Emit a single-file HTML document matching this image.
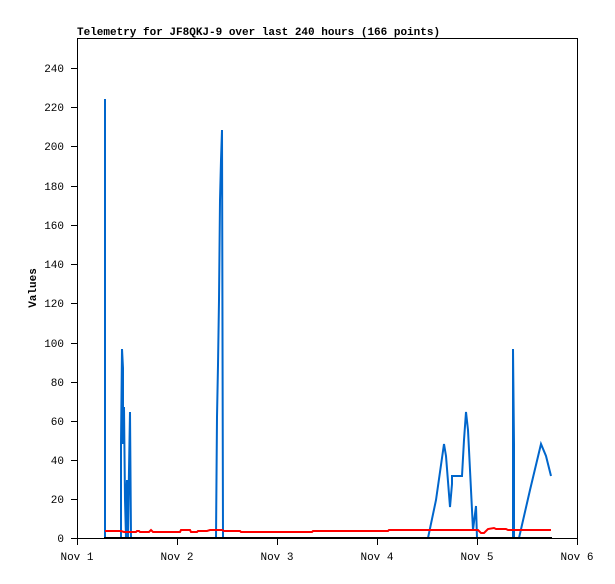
<!DOCTYPE html>
<html><head><meta charset="utf-8"><style>
body{margin:0;background:#fff}
svg text{font-family:"Liberation Mono","DejaVu Sans Mono",monospace;font-size:11px;fill:#000}
</style></head><body>
<svg width="615" height="579" xmlns="http://www.w3.org/2000/svg">
<rect width="615" height="579" fill="#fff"/>
<text x="77" y="35" style="font-weight:bold">Telemetry for JF8QKJ-9 over last 240 hours (166 points)</text>
<text transform="translate(36,288) rotate(-90)" text-anchor="middle" style="font-weight:bold">Values</text>
<g stroke="#000" stroke-width="1">
<line x1="77.5" y1="38" x2="77.5" y2="538"/>
<line x1="577.5" y1="38" x2="577.5" y2="538"/>
<line x1="77" y1="38.5" x2="578" y2="38.5"/>
<line x1="77" y1="538.5" x2="578" y2="538.5"/>
</g>
<g text-anchor="end">
<text x="64" y="542">0</text><line x1="71" y1="538.5" x2="77" y2="538.5" stroke="#000"/>
<text x="64" y="503">20</text><line x1="71" y1="499.5" x2="77" y2="499.5" stroke="#000"/>
<text x="64" y="464">40</text><line x1="71" y1="460.5" x2="77" y2="460.5" stroke="#000"/>
<text x="64" y="425">60</text><line x1="71" y1="421.5" x2="77" y2="421.5" stroke="#000"/>
<text x="64" y="386">80</text><line x1="71" y1="382.5" x2="77" y2="382.5" stroke="#000"/>
<text x="64" y="347">100</text><line x1="71" y1="343.5" x2="77" y2="343.5" stroke="#000"/>
<text x="64" y="307">120</text><line x1="71" y1="303.5" x2="77" y2="303.5" stroke="#000"/>
<text x="64" y="268">140</text><line x1="71" y1="264.5" x2="77" y2="264.5" stroke="#000"/>
<text x="64" y="229">160</text><line x1="71" y1="225.5" x2="77" y2="225.5" stroke="#000"/>
<text x="64" y="190">180</text><line x1="71" y1="186.5" x2="77" y2="186.5" stroke="#000"/>
<text x="64" y="150">200</text><line x1="71" y1="146.5" x2="77" y2="146.5" stroke="#000"/>
<text x="64" y="111">220</text><line x1="71" y1="107.5" x2="77" y2="107.5" stroke="#000"/>
<text x="64" y="72">240</text><line x1="71" y1="68.5" x2="77" y2="68.5" stroke="#000"/>
</g>
<g text-anchor="middle">
<text x="77" y="560">Nov 1</text><line x1="77.5" y1="538" x2="77.5" y2="545" stroke="#000"/>
<text x="177" y="560">Nov 2</text><line x1="177.5" y1="538" x2="177.5" y2="545" stroke="#000"/>
<text x="277" y="560">Nov 3</text><line x1="277.5" y1="538" x2="277.5" y2="545" stroke="#000"/>
<text x="377" y="560">Nov 4</text><line x1="377.5" y1="538" x2="377.5" y2="545" stroke="#000"/>
<text x="477" y="560">Nov 5</text><line x1="477.5" y1="538" x2="477.5" y2="545" stroke="#000"/>
<text x="577" y="560">Nov 6</text><line x1="577.5" y1="538" x2="577.5" y2="545" stroke="#000"/>
</g>
<polyline fill="none" stroke="#0066cc" stroke-width="2" points="105,538 105,99 105,538 121,538 121,444 122,349 123,368 123,444 124,407 125,500 126,538 126,505 127,480 128,538 129,470 130,412 131,538 216,538 217,417 218,365 219,300 220,200 221,160 222,130 223,538 428,538 436,500 444,444 446,456 450,507 452,484 452,476 462,476 464,440 466,412 468,430 470,470 473,530 476,506 477,538 513,538 513,349 514,444 514,538 519,538 530,490 541,444 546,456 551,476"/>
<polyline fill="none" stroke="#ff0000" stroke-width="2" points="105,531 121,531 124,532 136,532 137,531 139,531 140,532 149,532 151,530 153,532 180,532 181,530 190,530 191,532 197,532 198,531 207,531 210,530 222,530 224,531 240,531 241,532 312,532 313,531 388,531 389,530 478,530 481,533 484,533 488,529 494,528 496,529 506,529 508,530 551,530"/>
<line x1="104" y1="538" x2="552" y2="538" stroke="#000" stroke-width="2"/>
</svg>
</body></html>
